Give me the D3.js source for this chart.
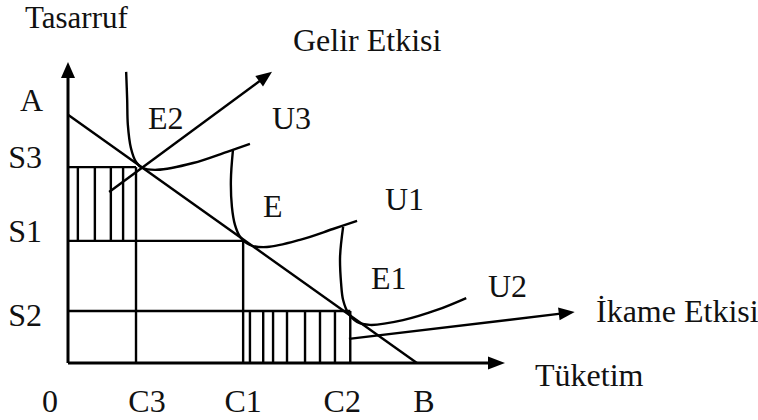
<!DOCTYPE html>
<html>
<head>
<meta charset="utf-8">
<script src="https://cdn.jsdelivr.net/npm/d3@7"></script>
<style>
  body { margin: 0; background: #fff; }
  text { font-family: "Liberation Serif", "Times New Roman", serif; font-size: 32px; fill: #111; }
</style>
</head>
<body>
<script>
// axis values (arbitrary units)
let xMax = 12.85, yMax = 8.85
let A = 7.3, B = 10.26
let cNames = ['C3', 'C1', 'C2']
let cValues = [2.0, 5.15, 8.3]
let sNames = ['S3', 'S1', 'S2']
let sValues = [5.76, 3.59, 1.53]

// indifference curves
let u3 = [[1.71, 8.56], [1.74, 7.74], [1.76, 7.0], [1.85, 6.32], [2.0, 5.91], [2.18, 5.74],
  [2.62, 5.68], [3.68, 5.88], [4.68, 6.21], [5.35, 6.44]]
let u1 = [[4.85, 6.26], [4.79, 5.38], [4.82, 4.59], [4.91, 4.06], [5.06, 3.71], [5.35, 3.47],
  [5.85, 3.41], [6.82, 3.62], [7.79, 3.94], [8.5, 4.18]]
let u2 = [[8.09, 4.0], [8.0, 3.12], [8.03, 2.35], [8.09, 1.85], [8.24, 1.47], [8.5, 1.21],
  [8.88, 1.12], [9.85, 1.26], [10.85, 1.56], [11.71, 1.91]]

// effect arrows
let gelir = [[1.21, 5.03], [6.0, 8.56]]
let ikame = [[8.26, 0.71], [14.9, 1.5]]

// hatching
let hatchLeft = [0.29, 0.79, 1.26, 1.62]
let hatchRight = [5.35, 5.74, 6.03, 6.44, 6.97, 7.41, 7.85]

let width = 758, height = 420

let x = d3.scaleLinear().domain([0, xMax]).range([68, 505])
let y = d3.scaleLinear().domain([0, yMax]).range([363, 62])

let svg = d3.select('body').append('svg')
  .attr('width', width)
  .attr('height', height)

let lineGen = d3.line()
  .x(d => x(d[0]))
  .y(d => y(d[1]))

function seg(x1, y1, x2, y2, w) {
  svg.append('line')
    .attr('x1', x(x1)).attr('y1', y(y1))
    .attr('x2', x(x2)).attr('y2', y(y2))
    .attr('stroke', 'black')
    .attr('stroke-width', w || 2.4)
}

function arrowHead(p0, p1, len, half) {
  let x0 = x(p0[0]), y0 = y(p0[1]), x1 = x(p1[0]), y1 = y(p1[1])
  let a = Math.atan2(y1 - y0, x1 - x0)
  let bx = x1 - len * Math.cos(a), by = y1 - len * Math.sin(a)
  let pts = [[x1, y1],
    [bx + half * Math.sin(a), by - half * Math.cos(a)],
    [bx - half * Math.sin(a), by + half * Math.cos(a)]]
  svg.append('path')
    .attr('d', 'M' + pts.join('L') + 'Z')
    .attr('fill', 'black')
}

// hatching
hatchLeft.forEach(v => seg(v, sValues[0], v, sValues[1]))
hatchRight.forEach(v => seg(v, sValues[2], v, 0))

// guide lines
sValues.forEach((v, i) => seg(0, v, cValues[i], v))
cValues.forEach((v, i) => seg(v, 0, v, sValues[i]))

// budget line
seg(0, A, B, 0)

// curves
;[u3, u1, u2].forEach(c => {
  svg.append('path')
    .attr('d', lineGen.curve(d3.curveCatmullRom)(c))
    .attr('fill', 'none')
    .attr('stroke', 'black')
    .attr('stroke-width', 2.4)
})

// effect arrows
;[gelir, ikame].forEach(a => {
  let a0 = a[0], a1 = a[1]
  let dx = x(a1[0]) - x(a0[0]), dy = y(a1[1]) - y(a0[1])
  let L = Math.hypot(dx, dy)
  let cut = 10 / L
  seg(a0[0], a0[1], a1[0] - (a1[0] - a0[0]) * cut, a1[1] - (a1[1] - a0[1]) * cut)
  arrowHead(a0, a1, 16, 6.5)
})

// axes
seg(0, 0, 0, yMax - 0.3, 3)
seg(0, 0, xMax - 0.3, 0, 3)
arrowHead([0, 0], [0, yMax], 16, 7)
arrowHead([0, 0], [xMax, 0], 17, 6.5)

// axis labels
let tickNudge = { 'C3': 11, 'C1': 0, 'C2': -8, 'B': 7, '0': 0 }
let xTicks = [['0', 0], ...cNames.map((n, i) => [n, cValues[i]]), ['B', B]]
svg.selectAll('.xl').data(xTicks).enter().append('text')
  .attr('x', d => d[0] === '0' ? 50 : x(d[1]) + tickNudge[d[0]])
  .attr('y', 412)
  .attr('text-anchor', 'middle')
  .text(d => d[0])

let sNudge = { 'A': -4, 'S3': 1, 'S1': 1, 'S2': 15 }
let yTicks = [['A', A], ...sNames.map((n, i) => [n, sValues[i]])]
svg.selectAll('.yl').data(yTicks).enter().append('text')
  .attr('x', d => d[0] === 'A' ? 43 : 42)
  .attr('y', d => y(d[1]) + sNudge[d[0]])
  .attr('text-anchor', 'end')
  .text(d => d[0])

// annotations
let notes = [
  ['Tasarruf', 25, 28], ['Gelir Etkisi', 293, 51], ['Tüketim', 535, 386],
  ['İkame Etkisi', 596, 322], ['E2', 148, 129], ['U3', 272, 129],
  ['E', 263, 217], ['U1', 385, 210], ['E1', 371, 289], ['U2', 488, 297]
]
svg.selectAll('.note').data(notes).enter().append('text')
  .attr('x', d => d[1])
  .attr('y', d => d[2])
  .style('font-size', d => d[0] === 'Tasarruf' ? '31px' : null)
  .text(d => d[0])
</script>
</body>
</html>
